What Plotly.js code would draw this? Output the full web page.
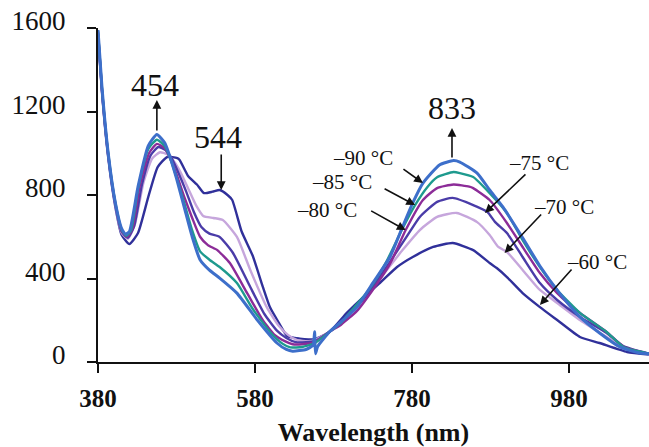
<!DOCTYPE html>
<html>
<head>
<meta charset="utf-8">
<script src="https://cdn.plot.ly/plotly-3.0.1.min.js"></script>
<style>html,body{margin:0;padding:0;background:#fff;}#chart{width:649px;height:447px;}</style>
</head>
<body>
<div id="chart"></div>
<script>
// Series: temperatures
const seriesNames = ["–60 °C", "–70 °C", "–75 °C", "–80 °C", "–85 °C", "–90 °C"];

const x_m60 = [380,385,393,402,410,420,431,444,456,468,481,484,495,506,515,526,535,545,551,563,577,590,599,610,621,637,648,656,675,697,718,739,761,781,807,832,858,879,888,901,921,943,965,994,1019,1054,1082];
const y_m60 = [1565,1295,980,745,610,565,618,790,934,982,977,968,890,850,809,816,824,800,776,625,510,360,263,190,125,112,108,110,144,235,311,378,455,503,551,570,536,474,450,407,330,263,201,120,91,48,36];

const x_m70 = [380,385,393,402,410,418,427,438,449,459,468,476,485,495,505,514,527,539,557,574,595,610,622,634,648,656,675,697,727,748,768,790,812,837,863,879,890,901,921,943,965,994,1028,1050,1082];
const y_m70 = [1570,1300,985,750,620,590,660,860,975,1005,995,965,910,830,750,700,690,680,599,441,263,175,130,105,100,105,145,216,345,441,536,632,695,714,670,608,551,527,441,345,283,201,120,70,38];

const x_m75 = [380,385,393,402,410,418,426,436,447,457,466,474,482,492,502,512,522,535,552,574,592,608,620,632,645,656,675,697,718,730,752,773,790,812,832,858,876,886,901,921,943,965,994,1028,1050,1082];
const y_m75 = [1575,1305,990,755,625,595,650,850,990,1030,1015,975,910,820,720,645,615,599,522,359,230,150,115,95,95,100,145,215,300,360,480,599,695,767,786,752,719,670,618,503,378,297,216,139,75,40];

const x_m80 = [380,385,393,402,410,417,424,433,445,455,465,472,480,490,500,510,520,532,548,570,590,605,618,628,640,656,675,690,710,730,752,772,794,812,833,853,858,879,901,921,943,965,994,1028,1050,1082];
const y_m80 = [1580,1310,995,760,630,600,640,840,1000,1045,1025,975,900,790,690,600,560,536,474,330,200,130,100,85,85,95,145,180,245,345,470,632,776,833,850,840,833,776,666,551,426,330,235,144,72,40];

const x_m85 = [380,385,393,402,410,416,422,431,444,455,465,472,480,490,500,510,522,535,557,577,600,615,625,640,656,675,690,705,727,748,768,784,800,812,833,841,858,879,901,921,943,965,994,1028,1050,1082];
const y_m85 = [1585,1315,1000,765,635,605,630,830,1020,1065,1035,975,885,760,630,530,490,455,378,255,140,88,70,72,90,145,190,255,355,485,640,752,840,885,910,905,886,809,714,584,455,345,235,144,70,40];

const x_m90 = [380,385,393,402,410,415,420,431,444,455,465,472,480,490,500,510,522,535,557,583,608,620,628,645,654,656,657,660,675,688,710,730,752,768,781,794,815,833,841,863,879,896,921,943,968,994,1019,1045,1070,1082];
const y_m90 = [1590,1320,1000,765,640,612,625,840,1035,1090,1050,980,880,740,600,490,440,402,330,201,91,60,52,60,80,145,40,75,145,187,263,378,503,647,762,857,944,965,958,905,824,742,595,460,330,216,139,72,43,40];

const xTicks = [380, 580, 780, 980];
const yTicks = [0, 400, 800, 1200, 1600];

const colors = ["#30309a", "#c6a6dc", "#4a3ca8", "#8c2c98", "#1e9a8e", "#3d6fca"];
const widths = [2.4, 2.4, 2.4, 2.4, 2.4, 3.0];

const xs = [x_m60, x_m70, x_m75, x_m80, x_m85, x_m90];
const ys = [y_m60, y_m70, y_m75, y_m80, y_m85, y_m90];

const traces = xs.map((xv, i) => ({
  x: xv, y: ys[i], type: "scatter", mode: "lines", name: seriesNames[i],
  line: {color: colors[i], width: widths[i], shape: "spline", smoothing: 0.5},
  hoverinfo: "skip"
}));

const serif = "Liberation Serif, Times New Roman, serif";

function label(text, x, y, size) {
  return {x: x, y: y, xref: "x", yref: "y", text: text, showarrow: false,
          font: {family: serif, size: size, color: "#111"}, xanchor: "center", yanchor: "middle"};
}
function arrow(x, y, ax, ay) {
  return {x: x, y: y, xref: "x", yref: "y", text: "", showarrow: true, ax: ax, ay: ay,
          arrowhead: 2, arrowsize: 1.1, arrowwidth: 1.6, arrowcolor: "#111"};
}

const annotations = [
  label("454", 453, 1327, 32), arrow(455, 1255, 0, 32),
  label("544", 533, 1078, 32), arrow(537, 824, 0, -37),
  label("833", 831, 1217, 32), arrow(831, 1121, 0, 31),
  label("–90 °C", 718, 977, 21), arrow(794, 857, -21, -15),
  label("–85 °C", 691, 862, 21), arrow(784, 752, -32, -17),
  label("–80 °C", 672, 728, 21), arrow(772, 632, -36, -20),
  label("–75 °C", 942, 953, 21), arrow(873, 714, 42, -40),
  label("–70 °C", 974, 742, 21), arrow(898, 522, 38, -40),
  label("–60 °C", 1016, 479, 21), arrow(943, 273, 33, -37)
];

const layout = {
  width: 649, height: 447,
  margin: {l: 98, r: 0, t: 28, b: 85},
  paper_bgcolor: "#fff", plot_bgcolor: "#fff",
  showlegend: false,
  xaxis: {
    range: [380, 1082], tickvals: xTicks, ticktext: xTicks.map(String),
    showgrid: false, zeroline: false, showline: true, linecolor: "#111", linewidth: 2,
    ticks: "outside", ticklen: 9, tickwidth: 2, tickcolor: "#111",
    ticklabelstandoff: 4,
    tickfont: {family: serif, size: 25, color: "#111", weight: "bold"},
    title: {text: "<b>Wavelength (nm)</b>", font: {family: serif, size: 26, color: "#111"}, standoff: 14}
  },
  yaxis: {
    range: [0, 1600], tickvals: yTicks, ticktext: yTicks.map(String),
    showgrid: false, zeroline: false, showline: true, linecolor: "#111", linewidth: 2,
    ticks: "outside", ticklen: 9, tickwidth: 2, tickcolor: "#111",
    ticklabelstandoff: 16, ticklabelshift: -7,
    tickfont: {family: serif, size: 27, color: "#111"}
  },
  annotations: annotations
};

Plotly.newPlot("chart", traces, layout, {displayModeBar: false, staticPlot: true});
</script>
</body>
</html>
